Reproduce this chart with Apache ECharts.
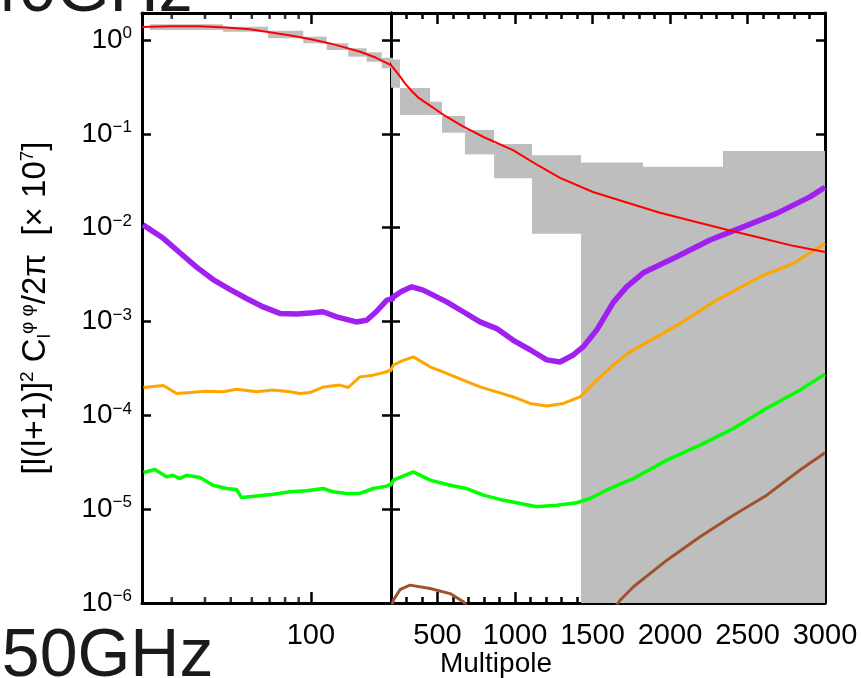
<!DOCTYPE html>
<html>
<head>
<meta charset="utf-8">
<title>Lensing potential power spectrum</title>
<script src="https://cdn.jsdelivr.net/npm/echarts@6/dist/echarts.min.js"></script>
<style>
html, body { margin: 0; padding: 0; background: #fff; }
#chart { width: 861px; height: 678px; }
</style>
</head>
<body>
<div id="chart"></div>
<script>
// the left panel is log in l up to lSplit, the right one linear after it
var lLeftMin = 23.2;
var lSplit = 200;
var lRightMax = 3000;
var yMin = 1e-6;
var yMax = 1.94;

var xLabelsLeft = [100];
var xMinorLeft = [30, 40, 50, 60, 70, 80, 90];

// theory (red)
var redL = [23.2, 30, 38, 48, 59, 70, 85, 100, 118, 135, 153, 175, 200, 230, 258, 290, 330, 374, 452, 550, 664, 800, 987, 1150, 1290, 1503, 1700, 1935, 2150, 2368, 2581, 2794, 3000];
var redV = [1.38, 1.40, 1.40, 1.36, 1.30, 1.21, 1.11, 1.02, 0.92, 0.83, 0.75, 0.65, 0.54, 0.47, 0.41, 0.345, 0.29, 0.245, 0.20, 0.155, 0.12, 0.092, 0.067, 0.046, 0.034, 0.024, 0.019, 0.0144, 0.0117, 0.0095, 0.0078, 0.0064, 0.0055];

// purple
var purpleL = [23.4, 27.9, 32.2, 37.2, 42.9, 49.6, 57.3, 66.2, 76.5, 88.4, 102, 111, 125, 148, 162, 176, 193, 215, 270, 334, 408, 559, 666, 774, 882, 989, 1097, 1205, 1290, 1376, 1441, 1527, 1634, 1720, 1828, 2043, 2258, 2366, 2473, 2689, 2903, 3000];
var purpleV = [0.0107, 0.0077, 0.0054, 0.0038, 0.0028, 0.0022, 0.00176, 0.00143, 0.00122, 0.0012, 0.00124, 0.00127, 0.00112, 0.00099, 0.00103, 0.00127, 0.00169, 0.00183, 0.0021, 0.00234, 0.00216, 0.00162, 0.00127, 0.00099, 0.00084, 0.00063, 0.0005, 0.00039, 0.00037, 0.00044, 0.00054, 0.00081, 0.0016, 0.00234, 0.0033, 0.0049, 0.0074, 0.0087, 0.0102, 0.0142, 0.0213, 0.027];

// orange
var orangeL = [23.5, 27.9, 31.3, 35.1, 40.5, 46.8, 52.6, 62.5, 72.2, 83.4, 90.9, 99.1, 111.2, 128.5, 138.1, 152.8, 171.5, 192.6, 215, 270, 344, 452, 559, 666, 774, 882, 989, 1097, 1205, 1312, 1419, 1527, 1634, 1742, 2065, 2301, 2581, 2796, 3000];
var orangeV = [0.000198, 0.000208, 0.000171, 0.000175, 0.000181, 0.000178, 0.00019, 0.000178, 0.000186, 0.000178, 0.000171, 0.000175, 0.0002, 0.00021, 0.000198, 0.000257, 0.000268, 0.000291, 0.000343, 0.00038, 0.00042, 0.000329, 0.00028, 0.000237, 0.000201, 0.000178, 0.000157, 0.000134, 0.000126, 0.000134, 0.000157, 0.000237, 0.000343, 0.000475, 0.00095, 0.00169, 0.003, 0.00416, 0.0068];

// green
var greenL = [23.5, 25.9, 28.7, 30.3, 32.2, 34.1, 38.3, 42.9, 48.2, 52.6, 54.9, 62.5, 72.2, 83.4, 96.3, 111.2, 121.2, 136.2, 152.8, 171.5, 192.6, 215, 344, 452, 581, 688, 796, 903, 1011, 1140, 1269, 1398, 1484, 1592, 1678, 1764, 1980, 2194, 2409, 2624, 2839, 3000];
var greenV = [2.46e-5, 2.65e-5, 2.21e-5, 2.30e-5, 2.12e-5, 2.30e-5, 2.18e-5, 1.80e-5, 1.66e-5, 1.62e-5, 1.33e-5, 1.38e-5, 1.44e-5, 1.53e-5, 1.57e-5, 1.66e-5, 1.53e-5, 1.47e-5, 1.47e-5, 1.66e-5, 1.76e-5, 2.04e-5, 2.5e-5, 2.04e-5, 1.8e-5, 1.66e-5, 1.41e-5, 1.27e-5, 1.17e-5, 1.06e-5, 1.10e-5, 1.17e-5, 1.30e-5, 1.6e-5, 1.85e-5, 2.12e-5, 3.33e-5, 4.81e-5, 7.24e-5, 1.19e-4, 1.86e-4, 2.75e-4];

// brown (mostly under the bottom of the axis)
var brownBumpL = [200, 215, 260, 323, 452, 581, 667, 720];
var brownBumpV = [8.5e-7, 1.07e-6, 1.4e-6, 1.55e-6, 1.43e-6, 1.26e-6, 1.03e-6, 8e-7];
var brownRiseL = [1600, 1678, 1764, 1980, 2194, 2409, 2624, 2839, 3000];
var brownRiseV = [7e-7, 1.07e-6, 1.49e-6, 2.86e-6, 5.07e-6, 8.63e-6, 1.41e-5, 2.61e-5, 4.0e-5];

// grey band power boxes, 0 = down to the bottom of the plot
var binLmin = [24.8, 46.8, 69.1, 93.6, 114.6, 138.1, 162, 184.5, 200, 258, 452, 529, 677, 865, 1110, 1426, 1826, 2342];
var binLmax = [46.8, 69.1, 93.6, 114.6, 138.1, 162, 184.5, 212, 258, 452, 529, 677, 865, 1110, 1426, 1826, 2342, 3000];
var binVlo = [1.28, 1.226, 1.042, 0.922, 0.782, 0.664, 0.587, 0.499, 0.31, 0.159, 0.159, 0.103, 0.0604, 0.0337, 0.0086, 0, 0, 0];
var binVhi = [1.47, 1.386, 1.256, 1.084, 0.922, 0.816, 0.74, 0.647, 0.62, 0.308, 0.22, 0.155, 0.110, 0.078, 0.0593, 0.0494, 0.0446, 0.0658];

var FONT = 'Liberation Sans, Arial, Helvetica, sans-serif';

// points for one panel, keeping one point past the edge so the line reaches the divider
function panelData(ls, vs, left) {
  var out = [];
  for (var i = 0; i < ls.length; i++) {
    var inside = left ? ls[i] <= lSplit : ls[i] >= lSplit;
    var nextIn = left ? (i > 0 && ls[i - 1] <= lSplit) : (i + 1 < ls.length && ls[i + 1] >= lSplit);
    if (inside || nextIn) out.push([ls[i], vs[i]]);
  }
  return out;
}

function lineSeries(name, ls, vs, color, width, z) {
  var base = { type: 'line', name: name, showSymbol: false, symbol: 'none', animation: false,
    lineStyle: { color: color, width: width }, z: z, clip: true };
  return [
    Object.assign({}, base, { xAxisIndex: 0, yAxisIndex: 0, data: panelData(ls, vs, true) }),
    Object.assign({}, base, { xAxisIndex: 1, yAxisIndex: 2, data: panelData(ls, vs, false) })
  ];
}

var binData = binLmin.map(function (l, i) {
  return [l, binLmax[i], binVlo[i] > 0 ? binVlo[i] : yMin, binVhi[i]];
});

function renderBin(params, api) {
  var p0 = api.coord([api.value(0), api.value(3)]);
  var p1 = api.coord([api.value(1), api.value(2)]);
  var cs = params.coordSys;
  var rect = echarts.graphic.clipRectByRect(
    { x: p0[0], y: p0[1], width: p1[0] - p0[0], height: p1[1] - p0[1] },
    { x: cs.x, y: cs.y, width: cs.width, height: cs.height });
  return rect && { type: 'rect', shape: rect, style: { fill: '#bebebe' } };
}

function supLabel(v) {
  var lg = Math.log10(v);
  var e = Math.round(lg);
  if (Math.abs(lg - e) > 1e-6) return '';
  return '{b|10}{s|' + (e < 0 ? '\u2212' + (-e) : e) + '}';
}

var axisLine = { show: true, onZero: false, lineStyle: { color: '#000', width: 3 } };
var tickStyle = { color: '#000', width: 2.5 };

function yAxisFor(grid, pos, withLabels) {
  var ax = {
    type: 'log', gridIndex: grid, position: pos, min: yMin, max: yMax, logBase: 10,
    axisLine: axisLine,
    axisTick: { show: true, inside: true, length: 9, lineStyle: tickStyle },
    splitLine: { show: false },
    axisLabel: { show: false }
  };
  if (withLabels) {
    ax.axisLabel = {
      show: true, margin: 10, color: '#000', fontFamily: FONT,
      formatter: supLabel,
      rich: {
        b: { fontSize: 28, fontFamily: FONT, color: '#000', lineHeight: 30 },
        s: { fontSize: 17, fontFamily: FONT, color: '#000', verticalAlign: 'top', lineHeight: 17 }
      }
    };
    ax.name = '{n|[l(l+1)]}{sup|2}{n| C}{sub|l}{sup|\u03c6 \u03c6}{n|/2\u03c0  [\u00d7 10}{sup|7}{n|]}';
    ax.nameLocation = 'middle';
    ax.nameGap = 88;
    ax.nameRotate = 90;
    ax.nameTextStyle = {
      color: '#000', fontFamily: FONT, fontSize: 33,
      rich: {
        n: { fontSize: 33, fontFamily: FONT, color: '#000', lineHeight: 36 },
        sup: { fontSize: 19, fontFamily: FONT, color: '#000', verticalAlign: 'top', lineHeight: 19 },
        sub: { fontSize: 19, fontFamily: FONT, color: '#000', verticalAlign: 'bottom', lineHeight: 19 }
      }
    };
  }
  return ax;
}

var xLabelStyle = { color: '#000', fontFamily: FONT, fontSize: 29, margin: 18 };

var option = {
  backgroundColor: '#fff',
  animation: false,
  grid: [
    { left: 142, top: 13, width: 249, height: 590 },
    { left: 391, top: 13, width: 434, height: 590 }
  ],
  xAxis: [
    { // 0: left panel, bottom, log
      type: 'log', gridIndex: 0, position: 'bottom', min: lLeftMin, max: lSplit,
      axisLine: axisLine,
      axisTick: { show: true, inside: true, length: 11, lineStyle: tickStyle },
      splitLine: { show: false },
      axisLabel: Object.assign({}, xLabelStyle, {
        formatter: function (v) {
          for (var i = 0; i < xLabelsLeft.length; i++) {
            if (Math.abs(v - xLabelsLeft[i]) < 0.01) return String(xLabelsLeft[i]);
          }
          return '';
        }
      })
    },
    { // 1: right panel, bottom, major ticks and labels
      type: 'value', gridIndex: 1, position: 'bottom', min: lSplit, max: lRightMax,
      axisLine: axisLine,
      axisTick: { show: true, inside: true, length: 11, lineStyle: tickStyle },
      splitLine: { show: false },
      axisLabel: Object.assign({}, xLabelStyle, {
        formatter: function (v) { return v === lSplit ? '' : String(v); }
      })
    },
    { // 2: right panel, bottom, minor ticks every 100
      type: 'value', gridIndex: 1, position: 'bottom', min: lSplit, max: lRightMax, interval: 100,
      axisLine: { show: false },
      axisTick: { show: true, inside: true, length: 6, lineStyle: tickStyle },
      splitLine: { show: false }, axisLabel: { show: false }
    },
    { // 3: right panel, top, major
      type: 'value', gridIndex: 1, position: 'top', min: lSplit, max: lRightMax,
      axisLine: axisLine,
      axisTick: { show: true, inside: true, length: 11, lineStyle: tickStyle },
      splitLine: { show: false }, axisLabel: { show: false }
    },
    { // 4: right panel, top, minor
      type: 'value', gridIndex: 1, position: 'top', min: lSplit, max: lRightMax, interval: 100,
      axisLine: { show: false },
      axisTick: { show: true, inside: true, length: 6, lineStyle: tickStyle },
      splitLine: { show: false }, axisLabel: { show: false }
    },
    { // 5: left panel, top
      type: 'log', gridIndex: 0, position: 'top', min: lLeftMin, max: lSplit,
      axisLine: axisLine,
      axisTick: { show: true, inside: true, length: 11, lineStyle: tickStyle },
      splitLine: { show: false }, axisLabel: { show: false }
    }
  ],
  yAxis: [
    yAxisFor(0, 'left', true),
    yAxisFor(0, 'right', false),
    yAxisFor(1, 'left', false),
    yAxisFor(1, 'right', false)
  ],
  graphic: [
    { type: 'text', x: -19, y: 26, silent: true,
      style: { text: '40GHz', fontSize: 68, fontFamily: FONT, fill: '#1a1a1a', verticalAlign: 'bottom' } },
    { type: 'text', x: -36, y: 691, silent: true,
      style: { text: '150GHz', fontSize: 68, fontFamily: FONT, fill: '#1a1a1a', verticalAlign: 'bottom' } },
    { type: 'text', x: 496, y: 678, silent: true,
      style: { text: 'Multipole', fontSize: 28, fontFamily: FONT, fill: '#000', align: 'center', verticalAlign: 'bottom' } }
  ],
  series: [].concat(
    [
      { type: 'custom', xAxisIndex: 0, yAxisIndex: 0, renderItem: renderBin, data: binData,
        encode: { x: [0, 1], y: [2, 3] }, z: 1, silent: true },
      { type: 'custom', xAxisIndex: 1, yAxisIndex: 2, renderItem: renderBin, data: binData,
        encode: { x: [0, 1], y: [2, 3] }, z: 1, silent: true }
    ],
    lineSeries('purple', purpleL, purpleV, '#a020f0', 5.5, 3),
    lineSeries('orange', orangeL, orangeV, '#ffa500', 3, 3),
    lineSeries('green', greenL, greenV, '#00ff00', 3.5, 3),
    [
      { type: 'line', xAxisIndex: 1, yAxisIndex: 2, showSymbol: false, symbol: 'none', clip: true,
        data: brownBumpL.map(function (l, i) { return [l, brownBumpV[i]]; }),
        lineStyle: { color: '#a0522d', width: 3 }, z: 3 },
      { type: 'line', xAxisIndex: 1, yAxisIndex: 2, showSymbol: false, symbol: 'none', clip: true,
        data: brownRiseL.map(function (l, i) { return [l, brownRiseV[i]]; }),
        lineStyle: { color: '#a0522d', width: 3 }, z: 3 }
    ],
    lineSeries('theory', redL, redV, '#ff0000', 2, 4),
    [
      // minor log ticks of the left panel, bottom and top edge
      { type: 'scatter', xAxisIndex: 0, yAxisIndex: 0, clip: false, silent: true, z: 6,
        data: xMinorLeft.map(function (l) { return [l, yMin]; }),
        symbol: 'rect', symbolSize: [2.5, 6], symbolOffset: [0, -3], itemStyle: { color: '#000' } },
      { type: 'scatter', xAxisIndex: 0, yAxisIndex: 0, clip: false, silent: true, z: 6,
        data: xMinorLeft.map(function (l) { return [l, yMax]; }),
        symbol: 'rect', symbolSize: [2.5, 6], symbolOffset: [0, 3], itemStyle: { color: '#000' } }
    ]
  )
};

var myChart = echarts.init(document.getElementById('chart'));
myChart.setOption(option);
</script>
</body>
</html>
